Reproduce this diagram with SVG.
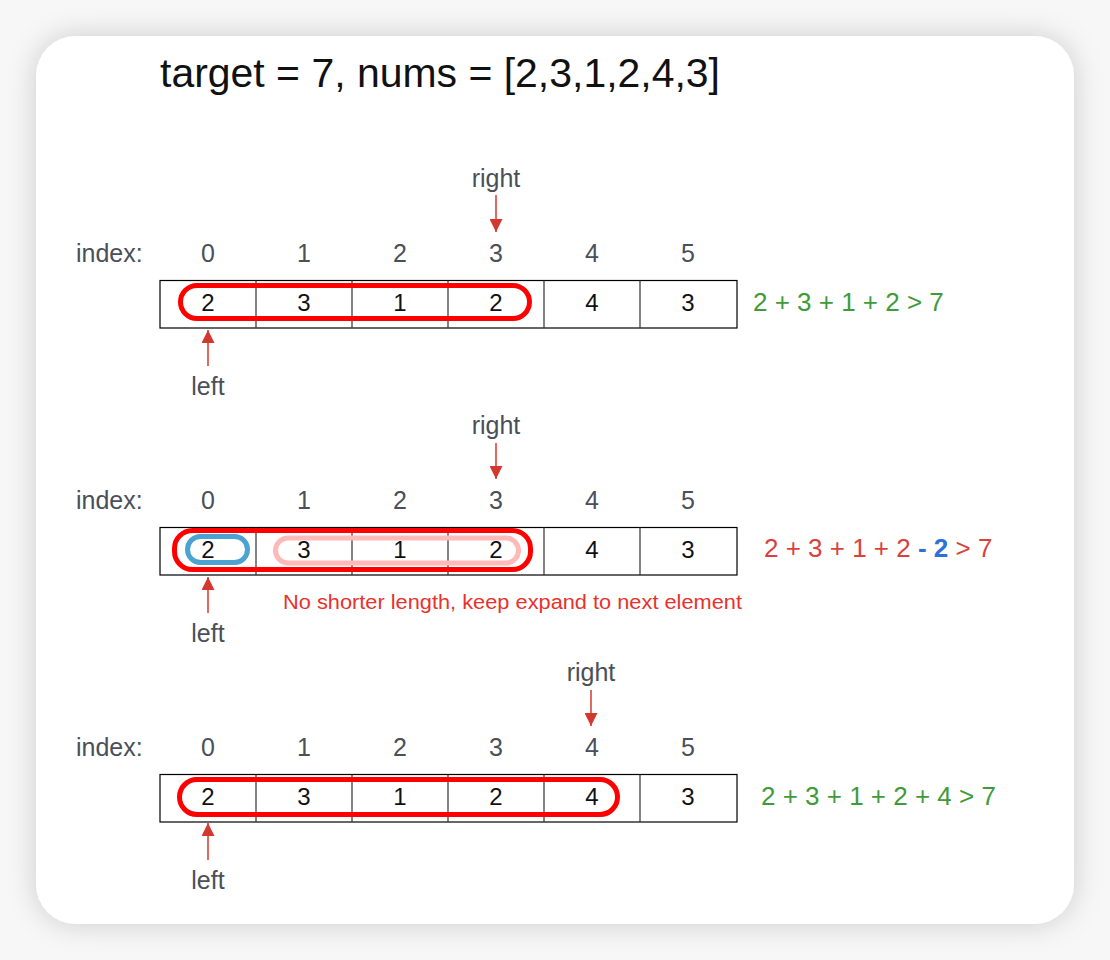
<svg xmlns="http://www.w3.org/2000/svg" width="1110" height="960" viewBox="0 0 1110 960">
<defs>
<filter id="sh" x="-10%" y="-10%" width="120%" height="120%">
<feDropShadow dx="0" dy="0" stdDeviation="14" flood-color="#000" flood-opacity="0.18"/>
</filter>
<marker id="ah" viewBox="0 0 10 10" refX="10" refY="5" markerWidth="13" markerHeight="13" markerUnits="userSpaceOnUse" orient="auto">
<path d="M0,0 L10,5 L0,10 Z" fill="#d3382e"/>
</marker>
<style>
.lbl{font-family:"Liberation Sans",Arial,sans-serif;font-size:25px;fill:#4a4f58;text-anchor:middle}
.idx{font-family:"Liberation Sans",Arial,sans-serif;font-size:25px;fill:#4a4f58}
.cell{fill:#fff;stroke:#000;stroke-width:1.2}
.div{stroke:#333;stroke-width:1.2}
.val{font-family:"Liberation Sans",Arial,sans-serif;font-size:24px;fill:#111;text-anchor:middle}
.eq{font-family:"Liberation Sans",Arial,sans-serif;font-size:26px}
.g{fill:#3f9b3a}
.r{fill:#d9423c}
.b{fill:#2f70d8;font-weight:bold}
.loop{fill:none;stroke:#ff0000;stroke-width:5}
.arr{stroke:#d3382e;stroke-width:1.5;fill:none;marker-end:url(#ah)}
</style>
</defs>
<rect width="1110" height="960" fill="#f7f7f7"/>
<rect x="36" y="36" width="1038" height="888" rx="40" fill="#fff" filter="url(#sh)"/>
<text x="160" y="87" font-family="Liberation Sans,Arial,sans-serif" font-size="40" fill="#111" textLength="560" lengthAdjust="spacingAndGlyphs">target = 7, nums = [2,3,1,2,4,3]</text>

<g id="row1">
<text class="idx" x="76" y="262">index:</text>
<text x="208" y="262" class="lbl">0</text><text x="304" y="262" class="lbl">1</text><text x="400" y="262" class="lbl">2</text><text x="496" y="262" class="lbl">3</text><text x="592" y="262" class="lbl">4</text><text x="688" y="262" class="lbl">5</text>
<rect class="cell" x="160" y="280.5" width="577" height="47.5"/>
<path class="div" d="M256,280.5V328M352,280.5V328M448,280.5V328M544,280.5V328M640,280.5V328"/>
<text class="val" x="208" y="311">2</text><text class="val" x="304" y="311">3</text><text class="val" x="400" y="311">1</text><text class="val" x="496" y="311">2</text><text class="val" x="592" y="311">4</text><text class="val" x="688" y="311">3</text>
<rect class="loop" x="180.5" y="285.5" width="349" height="33" rx="16.5"/>
<text class="eq g" x="753" y="311">2 + 3 + 1 + 2 &gt; 7</text>
<text class="lbl" x="496" y="187">right</text>
<text class="lbl" x="208" y="395">left</text>
</g>

<g id="row2">
<text class="idx" x="76" y="509">index:</text>
<text x="208" y="509" class="lbl">0</text><text x="304" y="509" class="lbl">1</text><text x="400" y="509" class="lbl">2</text><text x="496" y="509" class="lbl">3</text><text x="592" y="509" class="lbl">4</text><text x="688" y="509" class="lbl">5</text>
<rect class="cell" x="160" y="527.5" width="577" height="47.5"/>
<path class="div" d="M256,527.5V575M352,527.5V575M448,527.5V575M544,527.5V575M640,527.5V575"/>
<text class="val" x="208" y="558">2</text><text class="val" x="304" y="558">3</text><text class="val" x="400" y="558">1</text><text class="val" x="496" y="558">2</text><text class="val" x="592" y="558">4</text><text class="val" x="688" y="558">3</text>
<rect x="275.5" y="538" width="243" height="25" rx="12.5" fill="none" stroke="#ffb9b9" stroke-width="5"/>
<rect x="187.5" y="536.5" width="60" height="26" rx="13" fill="none" stroke="#4aa3d1" stroke-width="5"/>
<rect class="loop" x="174.5" y="530.5" width="356" height="39" rx="18"/>
<text class="eq" x="764" y="557"><tspan class="r">2 + 3 + 1 + 2 </tspan><tspan class="b">- 2</tspan><tspan class="r"> &gt; 7</tspan></text>
<text x="283" y="609" font-family="Liberation Sans,Arial,sans-serif" font-size="20.5" fill="#e8322b" textLength="459" lengthAdjust="spacingAndGlyphs">No shorter length, keep expand to next element</text>
<text class="lbl" x="496" y="434">right</text>
<text class="lbl" x="208" y="642">left</text>
</g>

<g id="row3">
<text class="idx" x="76" y="756">index:</text>
<text x="208" y="756" class="lbl">0</text><text x="304" y="756" class="lbl">1</text><text x="400" y="756" class="lbl">2</text><text x="496" y="756" class="lbl">3</text><text x="592" y="756" class="lbl">4</text><text x="688" y="756" class="lbl">5</text>
<rect class="cell" x="160" y="774.5" width="577" height="47.5"/>
<path class="div" d="M256,774.5V822M352,774.5V822M448,774.5V822M544,774.5V822M640,774.5V822"/>
<text class="val" x="208" y="805">2</text><text class="val" x="304" y="805">3</text><text class="val" x="400" y="805">1</text><text class="val" x="496" y="805">2</text><text class="val" x="592" y="805">4</text><text class="val" x="688" y="805">3</text>
<rect class="loop" x="179.5" y="779.5" width="438" height="35" rx="17.5"/>
<text class="eq g" x="761" y="805">2 + 3 + 1 + 2 + 4 &gt; 7</text>
<text class="lbl" x="591" y="681">right</text>
<text class="lbl" x="208" y="889">left</text>
</g>

<g id="connectors">
<path class="arr" d="M496,195V232"/>
<path class="arr" d="M208,366V330"/>
<path class="arr" d="M496,443V479"/>
<path class="arr" d="M208,613V577"/>
<path class="arr" d="M591,690V726"/>
<path class="arr" d="M208,860V823"/>
</g>
</svg>
